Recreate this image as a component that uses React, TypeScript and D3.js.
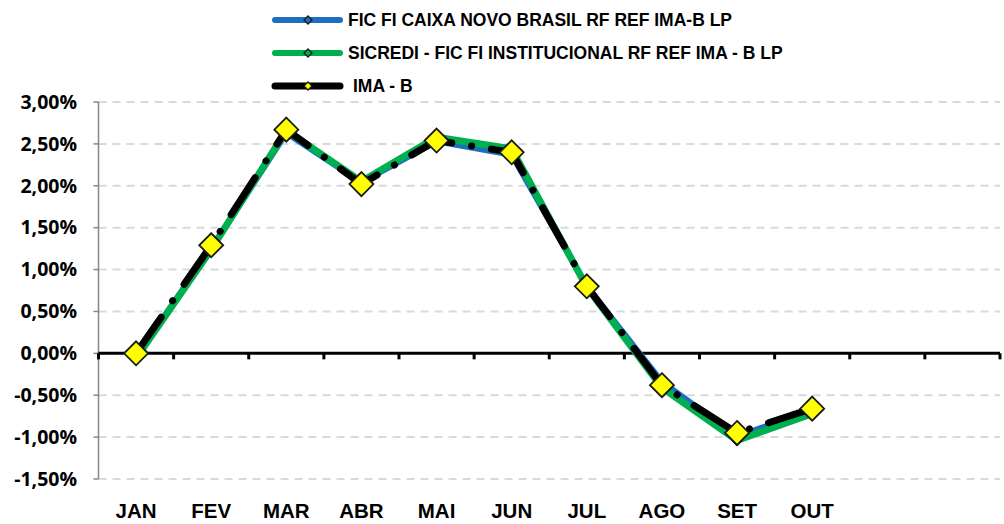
import * as d3 from 'd3';

const months = ['JAN', 'FEV', 'MAR', 'ABR', 'MAI', 'JUN', 'JUL', 'AGO', 'SET', 'OUT'];
const slotCount = 12; // axis runs the whole year, only 10 months filled

const caixa = [-0.04, 1.25, 2.63, 2.04, 2.53, 2.37, 0.8, -0.34, -0.99, -0.68];
const sicredi = [-0.06, 1.24, 2.66, 2.05, 2.58, 2.44, 0.79, -0.41, -1.04, -0.72];
const imab = [0.0, 1.29, 2.67, 2.02, 2.54, 2.4, 0.8, -0.38, -0.95, -0.66];

const yTicks = [3, 2.5, 2, 1.5, 1, 0.5, 0, -0.5, -1, -1.5];

const legendNames = [
  'FIC FI CAIXA NOVO BRASIL RF REF IMA-B LP',
  'SICREDI - FIC FI INSTITUCIONAL RF REF IMA - B LP',
  'IMA - B',
];

const W = 1004;
const H = 524;
const margin = { top: 102, right: 4, bottom: 45, left: 98.5 };

const BLUE = '#1f6fc0';
const GREEN = '#00b050';

function diamond(cx: number, cy: number, r: number) {
  return `M${cx},${cy - r}L${cx + r},${cy}L${cx},${cy + r}L${cx - r},${cy}Z`;
}

export default function App() {
  const x = d3
    .scaleBand<number>()
    .domain(d3.range(slotCount))
    .range([margin.left, W - margin.right]);
  const y = d3.scaleLinear().domain([-1.5, 3]).range([H - margin.bottom, margin.top]);

  const cx = (i: number) => (x(i) as number) + x.bandwidth() / 2;
  const line = d3
    .line<number>()
    .x((_, i) => cx(i))
    .y((d) => y(d));

  const font = "'Liberation Sans', Arial, sans-serif";

  return (
    <svg
      width={W}
      height={H}
      style={{ position: 'absolute', left: 0, top: 0, background: '#fff' }}
    >
      {/* grid */}
      {yTicks.map((t) => (
        <g key={t}>
          {t !== 0 && (
            <line
              x1={margin.left}
              x2={W - margin.right}
              y1={y(t)}
              y2={y(t)}
              stroke="#d9d9d9"
              strokeWidth={2}
              strokeDasharray="8 6"
            />
          )}
          <line x1={margin.left - 5} x2={margin.left} y1={y(t)} y2={y(t)} stroke="#868686" strokeWidth={1.5} />
          <text
            x={77}
            y={y(t)}
            dy="0.35em"
            textAnchor="end"
            fontFamily="'Open Sans', sans-serif"
            fontWeight="bold"
            fontSize={19.5}
            fill="#000"
          >
            {t.toFixed(2).replace('.', ',') + '%'}
          </text>
        </g>
      ))}

      {/* y axis */}
      <line
        x1={margin.left}
        x2={margin.left}
        y1={y(3)}
        y2={y(-1.5)}
        stroke="#868686"
        strokeWidth={1.5}
      />

      {/* zero line with category ticks */}
      <line x1={margin.left} x2={W - margin.right} y1={y(0)} y2={y(0)} stroke="#000" strokeWidth={3} />
      {d3.range(slotCount + 1).map((i) => {
        const xx = margin.left + i * x.step();
        return <line key={i} x1={xx} x2={xx} y1={y(0)} y2={y(0) + 6} stroke="#000" strokeWidth={3} />;
      })}

      {/* month labels */}
      {months.map((m, i) => (
        <text
          key={m}
          x={cx(i)}
          y={518}
          textAnchor="middle"
          fontFamily={font}
          fontWeight="bold"
          fontSize={20.5}
          fill="#000"
        >
          {m}
        </text>
      ))}

      {/* series */}
      <path d={line(caixa) || ''} fill="none" stroke={BLUE} strokeWidth={6} strokeLinejoin="round" />
      {caixa.map((v, i) => (
        <path key={i} d={diamond(cx(i), y(v), 5)} fill={BLUE} stroke="#1a1a1a" strokeWidth={1.5} />
      ))}
      <path d={line(sicredi) || ''} fill="none" stroke={GREEN} strokeWidth={7} strokeLinejoin="round" />
      {sicredi.map((v, i) => (
        <path key={i} d={diamond(cx(i), y(v), 5)} fill={GREEN} stroke="#1a1a1a" strokeWidth={1.5} />
      ))}
      <path
        d={line(imab) || ''}
        fill="none"
        stroke="#000"
        strokeWidth={7}
        strokeLinecap="round"
        strokeLinejoin="round"
        strokeDasharray="44 20 0.1 20"
      />
      {imab.map((v, i) => (
        <path key={i} d={diamond(cx(i), y(v), 12)} fill="#ffff00" stroke="#1a1a1a" strokeWidth={1.8} />
      ))}

      {/* legend */}
      {legendNames.map((name, i) => {
        const ly = 20 + i * 33;
        const color = i === 0 ? BLUE : i === 1 ? GREEN : '#000';
        const mfill = i === 0 ? BLUE : i === 1 ? GREEN : '#ffff00';
        return (
          <g key={name}>
            <line x1={275} x2={340} y1={ly} y2={ly} stroke={color} strokeWidth={i === 2 ? 7 : 6} strokeLinecap="round" />
            <path d={diamond(308, ly, 4)} fill={mfill} stroke="#1a1a1a" strokeWidth={1.3} />
            <text
              x={i === 2 ? 353 : 348}
              y={ly}
              dy="0.35em"
              fontFamily={font}
              fontWeight="bold"
              fontSize={17.5}
              fill="#000"
            >
              {name}
            </text>
          </g>
        );
      })}
    </svg>
  );
}
